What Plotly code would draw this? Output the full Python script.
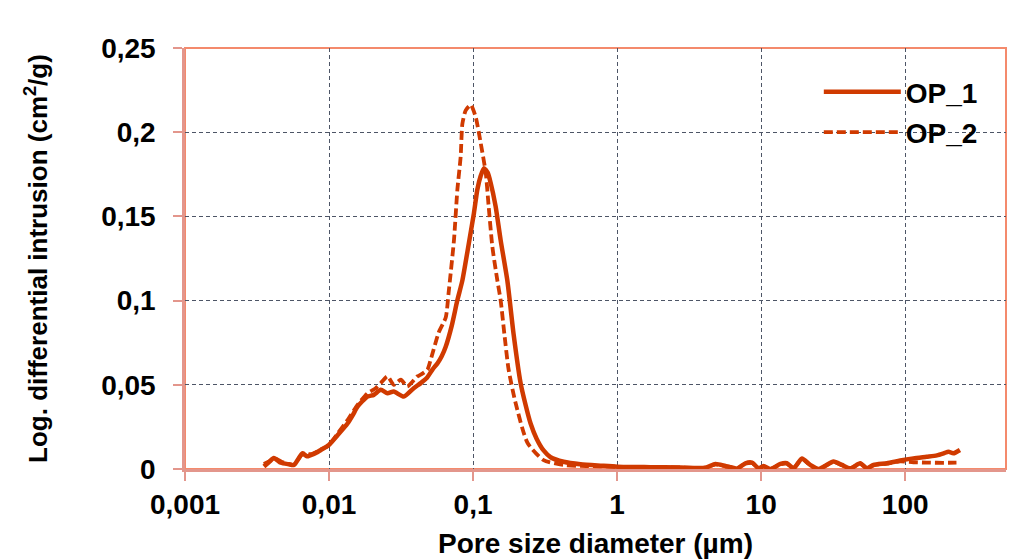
import plotly.graph_objects as go

# Pore size diameter (µm) and log differential intrusion (cm²/g)
op1_diameter = [
    0.00353, 0.00382, 0.00414, 0.00463, 0.00526, 0.00570, 0.00655, 0.00702,
    0.00748, 0.00810, 0.00877, 0.00997, 0.01145, 0.01344, 0.01462, 0.01576,
    0.01849, 0.02045, 0.02287, 0.02545, 0.02814, 0.03302, 0.03873, 0.04331,
    0.04768, 0.05222, 0.05681, 0.06055, 0.06457, 0.07106, 0.07783, 0.08429,
    0.09176, 0.1014, 0.1071, 0.1129, 0.1190, 0.1263, 0.1324, 0.1434,
    0.1553, 0.1729, 0.1912, 0.2138, 0.2316, 0.2508, 0.2761, 0.3087,
    0.3452, 0.4249, 0.5574, 0.7673, 1.006, 1.704, 2.753, 4.10,
    4.81, 5.65, 6.28, 6.80, 7.77, 8.65, 9.61, 10.4, 11.6, 13.6, 15.1, 16.8,
    19.2, 21.9, 25.1, 31.8, 36.4, 41.6, 48.8, 54.2, 60.3, 74.6, 92.3, 114,
    141, 166, 185, 200, 216, 240,
]
op1_intrusion = [
    0.0015, 0.0040, 0.0065, 0.0037, 0.0028, 0.0024, 0.0093, 0.0075,
    0.0083, 0.0095, 0.0113, 0.0143, 0.0200, 0.0270, 0.0320, 0.0370,
    0.0430, 0.0440, 0.0470, 0.0450, 0.0460, 0.0430, 0.0480, 0.0510,
    0.0540, 0.0590, 0.0630, 0.0670, 0.0726, 0.0850, 0.1003, 0.1120,
    0.1300, 0.1520, 0.1660, 0.1740, 0.1786, 0.1760, 0.1700, 0.1560,
    0.1360, 0.1120, 0.0800, 0.0510, 0.0380, 0.0270, 0.0180, 0.0110,
    0.0070, 0.0043, 0.0028, 0.0020, 0.0014, 0.0011, 0.0009, 0.0008,
    0.0030, 0.0018, 0.0010, 0.0002, 0.0034, 0.0038, 0.0004, 0.0018, 0.0000, 0.0030, 0.0034, 0.0004,
    0.0063, 0.0024, 0.0000, 0.0044, 0.0024, 0.0004, 0.0034, 0.0004, 0.0024, 0.0034, 0.0050, 0.0063,
    0.0073, 0.0081, 0.0093, 0.0103, 0.0093, 0.0113,
]

op2_diameter = [
    0.00353, 0.00394, 0.00427, 0.00480, 0.00570, 0.00655, 0.00748, 0.00877,
    0.00997, 0.01145, 0.01344, 0.01576, 0.01849, 0.02110, 0.02287, 0.02545,
    0.02814, 0.03150, 0.03490, 0.04100, 0.04331, 0.04820, 0.05084, 0.05770,
    0.06461, 0.06770, 0.07370, 0.07783, 0.08200, 0.08429, 0.08890, 0.09630,
    0.1043, 0.1130, 0.1224, 0.1283, 0.1361, 0.1474, 0.1555, 0.1650,
    0.1765, 0.1976, 0.2391, 0.3087, 0.4249, 0.5574, 0.7673, 1.006,
    1.704, 2.753, 4.10,
    4.81, 5.65, 6.28, 6.80, 7.77, 8.65, 9.61, 10.4, 11.6, 13.6, 15.1, 16.8,
    19.2, 21.9, 25.1, 31.8, 36.4, 41.6, 48.8, 54.2, 60.3, 74.6, 92.3, 114,
    141, 166, 200, 240,
]
op2_intrusion = [
    0.0030, 0.0050, 0.0060, 0.0040, 0.0025, 0.0090, 0.0088, 0.0115,
    0.0140, 0.0210, 0.0290, 0.0380, 0.0450, 0.0480, 0.0510, 0.0550,
    0.0500, 0.0530, 0.0490, 0.0550, 0.0560, 0.0590, 0.0650, 0.0810,
    0.0900, 0.1050, 0.1360, 0.1660, 0.1855, 0.2050, 0.2130, 0.2162,
    0.2090, 0.1935, 0.1760, 0.1560, 0.1320, 0.1120, 0.1000, 0.0800,
    0.0590, 0.0390, 0.0154, 0.0053, 0.0024, 0.0018, 0.0016, 0.0013,
    0.0010, 0.0009, 0.0008,
    0.0028, 0.0016, 0.0010, 0.0002, 0.0032, 0.0036, 0.0004, 0.0016, 0.0000, 0.0028, 0.0032, 0.0004,
    0.0060, 0.0022, 0.0000, 0.0042, 0.0022, 0.0004, 0.0032, 0.0004, 0.0022, 0.0032, 0.0045, 0.0040,
    0.0038, 0.0037, 0.0037, 0.0038,
]

x_tick_values = [0.001, 0.01, 0.1, 1, 10, 100]
x_tick_labels = ["0,001", "0,01", "0,1", "1", "10", "100"]

LINE_COLOR = "#d03a00"
GRID_COLOR = "#4d5566"
AXIS_COLOR = "#e3968c"
FONT = "Liberation Sans, Arial, sans-serif"
LABEL_FONT = dict(family=FONT, size=28, color="black", weight="bold")

fig = go.Figure()
fig.add_trace(go.Scatter(
    x=op1_diameter, y=op1_intrusion, mode="lines", name="OP_1",
    line=dict(color=LINE_COLOR, width=4.5, shape="spline", smoothing=0.6),
    legendgroup="a",
))
fig.add_trace(go.Scatter(
    x=op2_diameter, y=op2_intrusion, mode="lines", name="OP_2",
    line=dict(color=LINE_COLOR, width=3.8, dash="9px,4px", shape="spline", smoothing=0.6),
    legendgroup="b",
))

fig.update_layout(
    width=1013, height=560,
    margin=dict(l=185, r=7, t=48, b=91),
    paper_bgcolor="white", plot_bgcolor="white",
    separators=",.",
    font=dict(family=FONT, color="black", size=28),
    showlegend=True,
    legend=dict(
        x=0.772, y=0.955, xanchor="left", yanchor="top",
        bgcolor="rgba(0,0,0,0)", borderwidth=0,
        font=LABEL_FONT,
        itemwidth=77, tracegroupgap=1, traceorder="grouped",
    ),
    shapes=[dict(
        type="rect", xref="paper", yref="paper", x0=0, y0=0, x1=1, y1=1,
        line=dict(color="#f48a6c", width=2), layer="below",
    )],
)

fig.update_xaxes(
    type="log", range=[-3, 2.7], automargin=False,
    tickvals=x_tick_values, ticktext=x_tick_labels,
    showgrid=True, gridcolor=GRID_COLOR, griddash="4px,3px", gridwidth=1,
    showline=True, linecolor=AXIS_COLOR, linewidth=2.5,
    ticks="outside", ticklen=9, tickcolor=AXIS_COLOR, tickwidth=1.5,
    ticklabelstandoff=0,
    tickfont=LABEL_FONT,
    title=dict(text="Pore size diameter (µm)", standoff=15, font=LABEL_FONT),
    zeroline=False,
)
fig.update_yaxes(
    range=[0, 0.25], dtick=0.05, tick0=0, automargin=False,
    showgrid=True, gridcolor=GRID_COLOR, griddash="4px,3px", gridwidth=1,
    showline=True, linecolor=AXIS_COLOR, linewidth=2.5,
    ticks="outside", ticklen=9, tickcolor=AXIS_COLOR, tickwidth=1.5,
    ticklabelstandoff=12,
    tickfont=LABEL_FONT,
    title=dict(text="Log. differential intrusion (cm<sup>2</sup>/g)", standoff=47,
               font=dict(family=FONT, size=26, color="black", weight="bold")),
    zeroline=False,
)

fig.write_html("out.html")
